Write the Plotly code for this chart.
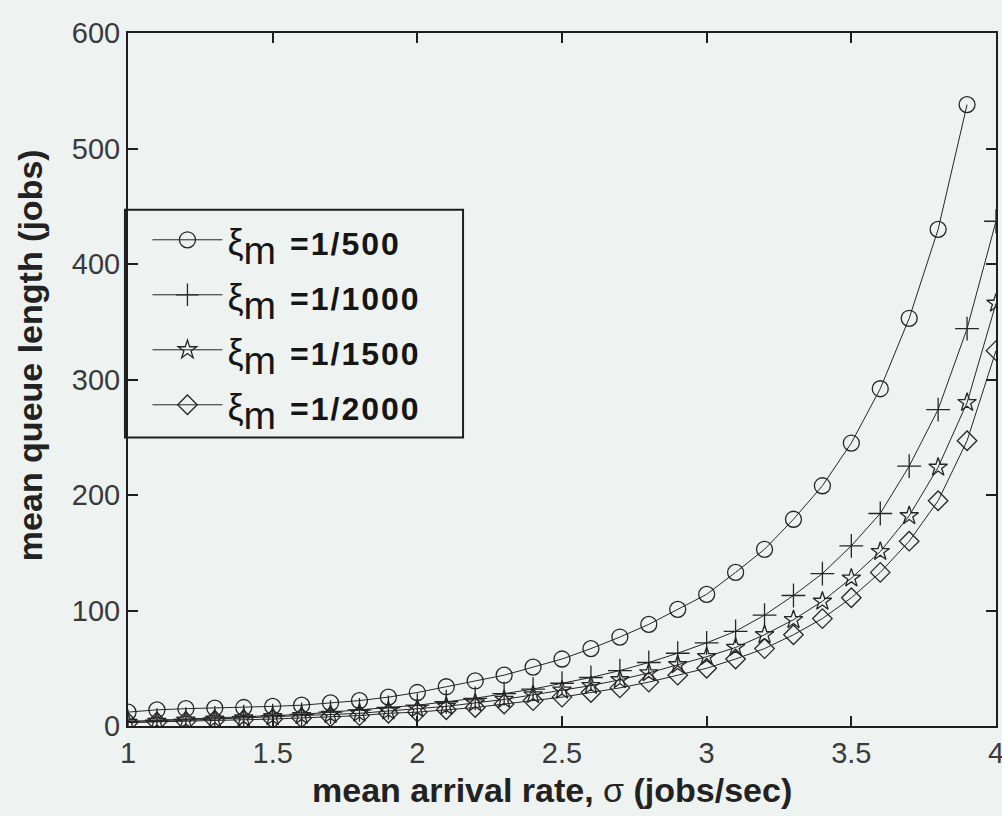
import plotly.graph_objects as go

# arrival rate sigma (jobs/sec)
sigma = [1.0, 1.1, 1.2, 1.3, 1.4, 1.5, 1.6, 1.7, 1.8, 1.9,
         2.0, 2.1, 2.2, 2.3, 2.4, 2.5, 2.6, 2.7, 2.8, 2.9,
         3.0, 3.1, 3.2, 3.3, 3.4, 3.5, 3.6, 3.7, 3.8, 3.9, 4.0]

# mean queue length (jobs) for each xi_m
q_500 = [12, 14, 15, 15.5, 16, 17, 18, 20, 22, 25,
         29, 34, 39, 44, 51, 58, 67, 77, 88, 101,
         114, 133, 153, 179, 208, 245, 292, 353, 430, 538]
q_1000 = [4, 5, 6, 7, 8, 9, 10, 12, 14, 16,
          18, 21, 24, 28, 32, 37, 42, 48, 55, 63,
          72, 82, 96, 113, 132, 156, 184, 225, 274, 344, 437]
q_1500 = [3, 4, 5, 6, 7, 8, 9, 10, 11, 13,
          15, 17, 20, 23, 27, 31, 35, 40, 46, 53,
          60, 68, 79, 92, 108, 128, 151, 182, 224, 280, 366]
q_2000 = [3, 3.5, 4, 5, 5.5, 6, 7, 8, 9, 11,
          12, 14, 16, 19, 22, 25, 29, 33, 38, 44,
          50, 58, 67, 79, 93, 111, 133, 160, 195, 247, 325]

xi_values = ["1/500", "1/1000", "1/1500", "1/2000"]
x_ticks = [1, 1.5, 2, 2.5, 3, 3.5, 4]
x_ticktext = ["1", "1.5", "2", "2.5", "3", "3.5", "4"]
y_ticks = [0, 100, 200, 300, 400, 500, 600]

BG = "#eef3f2"
INK = "#1e1e1e"
FONT = "Liberation Sans, Arial, sans-serif"


def legend_label(v):
    return ("<span style='font-size:36px;font-weight:normal'>ξ</span>"
            "<sub><span style='font-size:39px;font-weight:normal;letter-spacing:14px'>m</span></sub>"
            "<span style='font-size:32px;letter-spacing:2px'>=" + v + "</span>")


series = [
    (q_500, "circle-open", 16),
    (q_1000, "cross-thin-open", 17),
    (q_1500, "star-open", 14),
    (q_2000, "diamond-open", 15),
]

fig = go.Figure()
for i, (vals, sym, size) in enumerate(series):
    fig.add_trace(go.Scatter(
        x=sigma[:len(vals)], y=vals, mode="lines+markers",
        name=legend_label(xi_values[i]), legendgroup=f"g{i}",
        line=dict(color="#262626", width=1),
        marker=dict(symbol=sym, size=size, color="#262626",
                    line=dict(color="#262626", width=1.3)),
    ))

axis_common = dict(
    showline=True, linecolor=INK, linewidth=2, mirror="ticks",
    ticks="inside", ticklen=10, tickwidth=1.5, tickcolor=INK,
    showgrid=False, zeroline=False, automargin=False,
    tickfont=dict(family=FONT, size=29, color="#3a3a3a"),
)

fig.update_xaxes(range=[1, 4], tickvals=x_ticks, ticktext=x_ticktext,
                 ticklabeloverflow="allow", **axis_common)
fig.update_yaxes(range=[0, 600], tickvals=y_ticks, **axis_common)

# legend frame
fig.add_shape(type="rect", xref="paper", yref="paper",
              x0=-0.0035, x1=0.386, y0=0.4164, y1=0.745,
              line=dict(color=INK, width=2), fillcolor=BG, layer="below")

fig.update_layout(
    width=1002, height=816,
    margin=dict(l=128, r=6, t=33, b=90, pad=0),
    paper_bgcolor=BG, plot_bgcolor=BG,
    showlegend=True,
    legend=dict(x=0.0224, y=0.7485, xanchor="left", yanchor="top",
                bgcolor="rgba(0,0,0,0)", borderwidth=0,
                traceorder="grouped", tracegroupgap=0, itemwidth=70,
                font=dict(family=FONT, size=40, color="#151515", weight="bold")),
    annotations=[
        dict(text="mean arrival rate, <span style='font-weight:normal'>σ</span> (jobs/sec)",
             xref="paper", yref="paper",
             x=0.4885, y=-0.092, xanchor="center", yanchor="middle", showarrow=False,
             font=dict(family=FONT, size=34, color="#222", weight="bold"), textangle=0),
        dict(text="mean queue length (jobs)", xref="paper", yref="paper",
             x=-0.113, y=0.535, xanchor="center", yanchor="middle", showarrow=False,
             font=dict(family=FONT, size=34, color="#222", weight="bold"), textangle=-90),
    ],
)

fig.write_html("out.html")
